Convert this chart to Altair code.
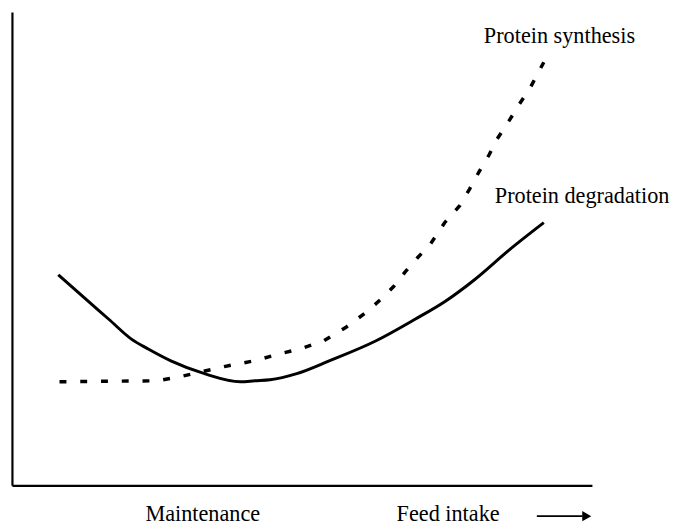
import altair as alt
import pandas as pd

# Protein degradation (solid curve)
deg_x = [8.0, 12.4, 16.7, 20.6, 23.5, 27.4, 33.2, 39.4, 41.9, 44.5, 49.1, 54.7, 62.7, 69.5, 74.6, 79.7, 85.7, 91.7]
deg_y = [44.5, 39.7, 35.1, 30.9, 28.8, 26.3, 23.6, 21.9, 22.1, 22.3, 23.6, 26.3, 30.5, 35.1, 38.8, 43.4, 49.7, 55.5]

# Protein synthesis (dashed curve)
syn_x = [8.2, 25.2, 29.1, 36.6, 41.7, 46.2, 49.6, 53.7, 57.6, 61.0, 63.5, 65.8, 67.8, 70.0, 72.1, 74.6, 77.2, 78.9, 80.6, 82.3, 83.6, 85.7, 87.4, 89.4, 91.7]
syn_y = [21.9, 22.1, 23.0, 25.1, 26.3, 27.8, 28.8, 30.5, 33.4, 36.5, 39.2, 42.0, 45.1, 48.2, 50.9, 55.5, 59.1, 62.6, 66.4, 69.9, 73.1, 77.0, 80.4, 84.1, 89.4]

curve_labels = ["Protein synthesis", "Protein degradation"]
curve_label_x = [94.4, 98.3]
curve_label_y = [95.0, 61.2]

axis_labels = ["Maintenance", "Feed intake"]
axis_label_x = [32.9, 75.2]
axis_label_y = [-6.05, -6.05]

arrow_x = [90.5, 98.4]
arrow_head_x = [99.1]
arrow_y = [-6.5]

FONT = "Liberation Serif"
FS = 22.5

xs = alt.Scale(domain=[0, 100], nice=False, zero=False)
ys = alt.Scale(domain=[0, 100], nice=False, zero=False)

ax_x = alt.Axis(labels=False, ticks=False, title=None, grid=False,
                domainColor="black", domainWidth=2.2)
ax_y = alt.Axis(labels=False, ticks=False, title=None, grid=False,
                domainColor="black", domainWidth=2.2)

deg_df = pd.DataFrame({"x": deg_x, "y": deg_y})
syn_df = pd.DataFrame({"x": syn_x, "y": syn_y})

deg = alt.Chart(deg_df).mark_line(color="black", strokeWidth=3, interpolate="monotone").encode(
    x=alt.X("x:Q", scale=xs, axis=ax_x),
    y=alt.Y("y:Q", scale=ys, axis=ax_y),
)

syn = alt.Chart(syn_df).mark_line(color="black", strokeWidth=3.5, strokeDash=[7, 14]).encode(
    x=alt.X("x:Q", scale=xs),
    y=alt.Y("y:Q", scale=ys),
)

lbl_df = pd.DataFrame({"t": curve_labels, "x": curve_label_x, "y": curve_label_y})
lbl = alt.Chart(lbl_df).mark_text(font=FONT, fontSize=FS, color="black",
                                  align="center", baseline="middle").encode(
    x=alt.X("x:Q", scale=xs), y=alt.Y("y:Q", scale=ys), text="t:N")

axl_df = pd.DataFrame({"t": axis_labels, "x": axis_label_x, "y": axis_label_y})
axl = alt.Chart(axl_df).mark_text(font=FONT, fontSize=FS, color="black",
                                  align="center", baseline="middle").encode(
    x=alt.X("x:Q", scale=xs), y=alt.Y("y:Q", scale=ys), text="t:N")

arr_df = pd.DataFrame({"x": [arrow_x[0]], "x2": [arrow_x[1]], "y": arrow_y})
arr = alt.Chart(arr_df).mark_rule(color="black", strokeWidth=2).encode(
    x=alt.X("x:Q", scale=xs), x2="x2:Q", y=alt.Y("y:Q", scale=ys))

head_df = pd.DataFrame({"x": arrow_head_x, "y": arrow_y})
head = alt.Chart(head_df).mark_point(shape="triangle-right", filled=True, color="black",
                                     size=110, opacity=1).encode(
    x=alt.X("x:Q", scale=xs), y=alt.Y("y:Q", scale=ys))

chart = alt.layer(deg, syn, lbl, axl, arr, head).properties(
    width=587, height=479,
    autosize=alt.AutoSizeParams(type="none"),
    padding={"left": 4, "top": 1, "right": 79, "bottom": 39},
    background="white",
).configure_view(stroke=None)

chart.save("out.html", embed_options={"renderer": "svg", "actions": False})
